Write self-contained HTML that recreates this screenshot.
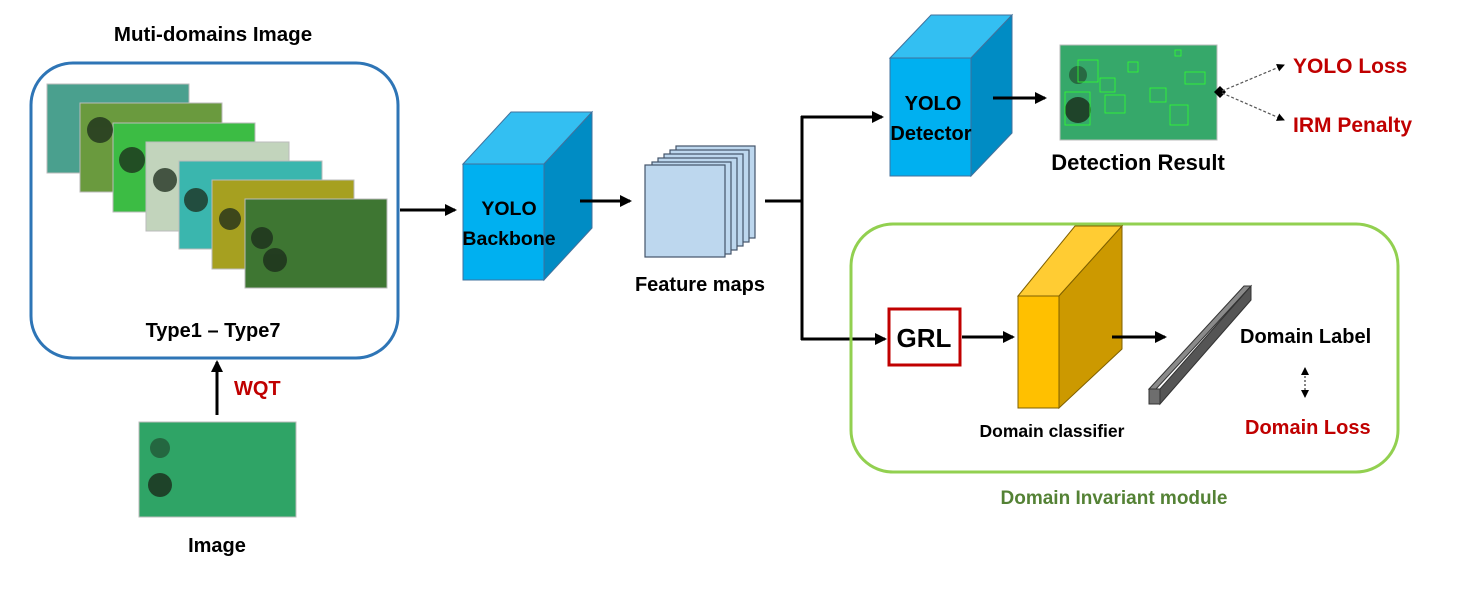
<!DOCTYPE html>
<html><head><meta charset="utf-8"><style>
html,body{margin:0;padding:0;background:#fff;}
svg{display:block;}
text{font-family:"Liberation Sans",sans-serif;font-weight:bold;}
</style></head><body>
<svg width="1462" height="606" viewBox="0 0 1462 606" xmlns="http://www.w3.org/2000/svg">
<defs>
<marker id="ahs" markerWidth="8" markerHeight="8" refX="7" refY="4" orient="auto-start-reverse" markerUnits="userSpaceOnUse"><path d="M0,0 L8,4 L0,8 z" fill="#000"/></marker>
<marker id="ahb" markerWidth="12" markerHeight="12" refX="10" refY="6" orient="auto" markerUnits="userSpaceOnUse"><path d="M0,0 L12,6 L0,12 z" fill="#000"/></marker>
</defs>

<text x="213" y="41" font-size="20.5" text-anchor="middle">Muti-domains Image</text>
<rect x="31" y="63" width="367" height="295" rx="42" fill="none" stroke="#2e75b6" stroke-width="3"/>
<g stroke="#bbb" stroke-width="1">
<rect x="47" y="84" width="142" height="89" fill="#4aa08e"/>
<rect x="80" y="103" width="142" height="89" fill="#6a9a3e"/>
<rect x="113" y="123" width="142" height="89" fill="#3cbc44"/>
<rect x="146" y="142" width="143" height="89" fill="#c2d4bc"/>
<rect x="179" y="161" width="143" height="88" fill="#3ab6ae"/>
<rect x="212" y="180" width="142" height="89" fill="#a6a020"/>
<rect x="245" y="199" width="142" height="89" fill="#3e7632"/>
</g>
<g fill="#1a2a1a" opacity="0.75">
<circle cx="100" cy="130" r="13"/><circle cx="132" cy="160" r="13"/><circle cx="165" cy="180" r="12"/><circle cx="196" cy="200" r="12"/><circle cx="230" cy="219" r="11"/><circle cx="262" cy="238" r="11"/><circle cx="275" cy="260" r="12"/>
</g>
<text x="213" y="337" font-size="20" text-anchor="middle">Type1 – Type7</text>

<line x1="217" y1="415" x2="217" y2="362" stroke="#000" stroke-width="3" marker-end="url(#ahb)"/>
<text x="234" y="395" font-size="20" fill="#c00000">WQT</text>
<rect x="139" y="422" width="157" height="95" fill="#2fa466" stroke="#bbb"/>
<circle cx="160" cy="485" r="12" fill="#1a2a1a" opacity="0.8"/>
<circle cx="160" cy="448" r="10" fill="#1a2a1a" opacity="0.5"/>
<text x="217" y="552" font-size="20" text-anchor="middle">Image</text>

<line x1="400" y1="210" x2="455" y2="210" stroke="#000" stroke-width="3" marker-end="url(#ahb)"/>

<polygon points="463,164 511,112 592,112 544,164" fill="#33bff2" stroke="#41719c"/>
<polygon points="544,164 592,112 592,228 544,280" fill="#008cc4" stroke="#41719c"/>
<rect x="463" y="164" width="81" height="116" fill="#00b0f0" stroke="#41719c"/>
<text x="509" y="215" font-size="19.5" text-anchor="middle">YOLO</text>
<text x="509" y="245" font-size="19.5" text-anchor="middle">Backbone</text>

<line x1="580" y1="201" x2="630" y2="201" stroke="#000" stroke-width="3" marker-end="url(#ahb)"/>

<g fill="#bdd7ee" stroke="#44546a" stroke-width="1.2">
<rect x="676" y="146" width="79" height="92"/>
<rect x="670" y="150" width="79" height="92"/>
<rect x="664" y="154" width="79" height="92"/>
<rect x="658" y="158" width="79" height="92"/>
<rect x="652" y="162" width="79" height="92"/>
<rect x="645" y="165" width="80" height="92"/>
</g>
<text x="700" y="291" font-size="20" text-anchor="middle">Feature maps</text>

<polyline points="765,201 802,201" fill="none" stroke="#000" stroke-width="3"/>
<line x1="802" y1="116" x2="802" y2="340" stroke="#000" stroke-width="3"/>
<line x1="801" y1="117" x2="882" y2="117" stroke="#000" stroke-width="3" marker-end="url(#ahb)"/>
<line x1="801" y1="339" x2="885" y2="339" stroke="#000" stroke-width="3" marker-end="url(#ahb)"/>

<polygon points="890,58 931,15 1012,15 971,58" fill="#33bff2" stroke="#41719c"/>
<polygon points="971,58 1012,15 1012,133 971,176" fill="#008cc4" stroke="#41719c"/>
<rect x="890" y="58" width="81" height="118" fill="#00b0f0" stroke="#41719c"/>
<text x="933" y="110" font-size="20" text-anchor="middle">YOLO</text>
<text x="931" y="140" font-size="20" text-anchor="middle">Detector</text>

<line x1="993" y1="98" x2="1045" y2="98" stroke="#000" stroke-width="3" marker-end="url(#ahb)"/>

<rect x="1060" y="45" width="157" height="95" fill="#36a86a" stroke="#bbb"/>
<circle cx="1078" cy="110" r="13" fill="#1a2a1a" opacity="0.8"/>
<circle cx="1078" cy="75" r="9" fill="#1a2a1a" opacity="0.5"/>
<g fill="none" stroke="#30ff30" stroke-width="0.8">
<rect x="1065" y="92" width="25" height="33"/><rect x="1078" y="60" width="20" height="22"/><rect x="1100" y="78" width="15" height="14"/><rect x="1105" y="95" width="20" height="18"/><rect x="1128" y="62" width="10" height="10"/><rect x="1150" y="88" width="16" height="14"/><rect x="1170" y="105" width="18" height="20"/><rect x="1185" y="72" width="20" height="12"/><rect x="1175" y="50" width="6" height="6"/>
</g>
<polygon points="1214,92 1220,86 1226,92 1220,98" fill="#000"/>
<line x1="1222" y1="91" x2="1284" y2="65" stroke="#555" stroke-width="1.2" stroke-dasharray="3,2" marker-end="url(#ahs)"/>
<line x1="1222" y1="93" x2="1284" y2="120" stroke="#555" stroke-width="1.2" stroke-dasharray="3,2" marker-end="url(#ahs)"/>
<text x="1293" y="73" font-size="21" fill="#c00000">YOLO Loss</text>
<text x="1293" y="132" font-size="21" fill="#c00000">IRM Penalty</text>
<text x="1138" y="170" font-size="22" text-anchor="middle">Detection Result</text>

<rect x="851" y="224" width="547" height="248" rx="42" fill="none" stroke="#92d050" stroke-width="3"/>
<text x="1114" y="504" font-size="19" fill="#548235" text-anchor="middle">Domain Invariant module</text>

<rect x="889" y="309" width="71" height="56" fill="#fff" stroke="#c00000" stroke-width="3"/>
<text x="924" y="347" font-size="26" text-anchor="middle">GRL</text>
<line x1="962" y1="337" x2="1013" y2="337" stroke="#000" stroke-width="3" marker-end="url(#ahb)"/>

<polygon points="1018,296 1075,226 1122,226 1059,296" fill="#ffcc33" stroke="#7f6000" stroke-width="1"/>
<polygon points="1059,296 1122,226 1122,349 1059,408" fill="#cc9900" stroke="#7f6000" stroke-width="1"/>
<rect x="1018" y="296" width="41" height="112" fill="#ffc000" stroke="#7f6000" stroke-width="1"/>
<line x1="1112" y1="337" x2="1165" y2="337" stroke="#000" stroke-width="3" marker-end="url(#ahb)"/>
<text x="1052" y="437" font-size="17.5" text-anchor="middle">Domain classifier</text>

<polygon points="1149,389 1244,286 1251,286 1156,389" fill="#8a8a8a" stroke="#333" stroke-width="1"/>
<polygon points="1160,404 1251,300 1251,286 1160,389" fill="#555" stroke="#333" stroke-width="1"/>
<rect x="1149" y="389" width="11" height="15" fill="#6e6e6e" stroke="#333" stroke-width="1"/>

<text x="1240" y="343" font-size="20">Domain Label</text>
<line x1="1305" y1="368" x2="1305" y2="397" stroke="#333" stroke-width="1.2" stroke-dasharray="2,2" marker-start="url(#ahs)" marker-end="url(#ahs)"/>
<text x="1245" y="434" font-size="20" fill="#c00000">Domain Loss</text>
</svg>
</body></html>
